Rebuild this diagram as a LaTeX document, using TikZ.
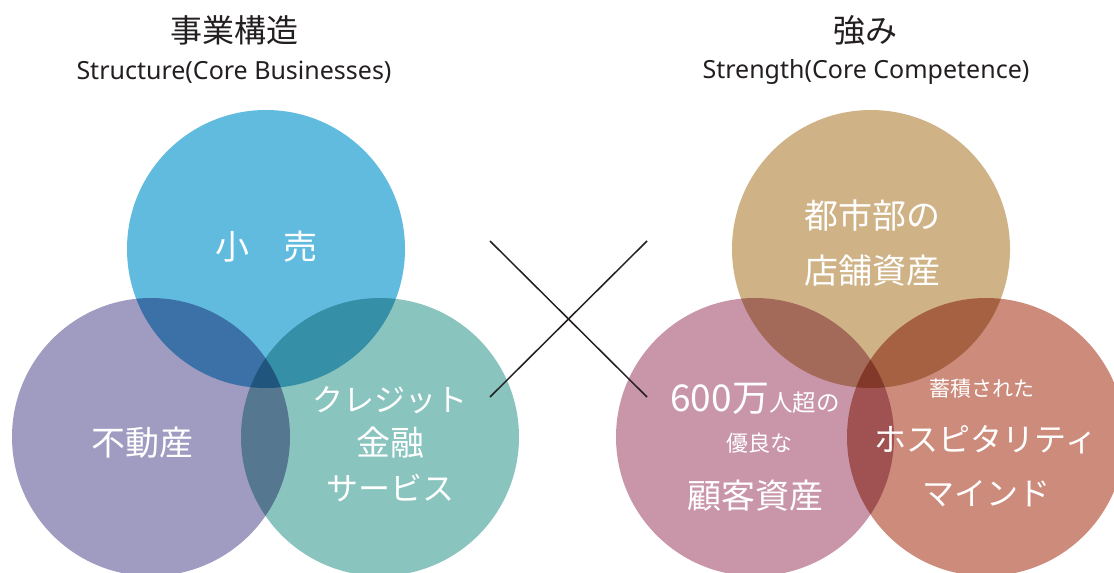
\documentclass[tikz,border=0pt]{standalone}
\usepackage{fontspec}
\setmainfont{Noto Sans CJK JP}
\newfontfamily\latinsub{Noto Sans}
\definecolor{cblue}{HTML}{61BBDF}
\definecolor{cpurple}{HTML}{9F9BC1}
\definecolor{cteal}{HTML}{89C4BF}
\definecolor{ctan}{HTML}{CFB387}
\definecolor{cpink}{HTML}{C996A9}
\definecolor{cbrown}{HTML}{CC8B7B}
\definecolor{ink}{HTML}{231F20}
\tikzset{
  venn/.style={circle, minimum size=278pt, inner sep=0pt, draw=none},
  intxt/.style={text=white, inner sep=0pt, font=\fontsize{34}{40}\selectfont},
  title/.style={text=ink, inner sep=0pt, font=\fontsize{32}{38}\selectfont},
  subtitle/.style={text=ink, inner sep=0pt, font=\latinsub\fontsize{25}{30}\selectfont},
  cross/.style={draw=ink, line width=1.5pt}
}
\begin{document}
\begin{tikzpicture}[x=1pt,y=-1pt]
\useasboundingbox (0,0) rectangle (1114,573);
\clip (0,0) rectangle (1114,573);
\fill[white] (0,0) rectangle (1114,573);
\begin{scope}[blend group=multiply]
  \node[venn, fill=cblue]   (retail) at (266,249) {};
  \node[venn, fill=cpurple] (estate) at (151,437) {};
  \node[venn, fill=cteal]   (credit) at (380,437) {};
  \node[venn, fill=ctan]    (store)  at (871,249) {};
  \node[venn, fill=cpink]   (cust)   at (755,437) {};
  \node[venn, fill=cbrown]  (hosp)   at (986,437) {};
\end{scope}
% titles
\node[title] (t1) at (234,30) {事業構造};
\node[subtitle] (s1) at (234,72) {Structure(Core Businesses)};
\node[title] (t2) at (865,30) {強み};
\node[subtitle] (s2) at (866,72) {Strength(Core Competence)};
% cross
\coordinate (xa) at (490,241);
\coordinate (xb) at (647,397);
\coordinate (xc) at (647,241);
\coordinate (xd) at (490,397);
\draw[cross] (xa) -- (xb);
\draw[cross] (xc) -- (xd);
% left texts
\node[intxt] (l1) at (266,247) {小　売};
\node[intxt] (l2) at (142,443) {不動産};
\node[intxt, font=\fontsize{31}{38}\selectfont] (l3a) at (390,400) {クレジット};
\node[intxt] (l3b) at (390,443) {金融};
\node[intxt, font=\fontsize{32}{38}\selectfont] (l3c) at (390,488) {サービス};
% right texts
\node[intxt] (r1a) at (872,216) {都市部の};
\node[intxt] (r1b) at (872,271) {店舗資産};
\node[intxt, anchor=base] (r2a) at (755,411) {{\fontsize{37}{40}\selectfont 600万}{\fontsize{23.5}{28}\selectfont 人超の}};
\node[intxt, font=\fontsize{22}{26}\selectfont] (r2b) at (759,443) {優良な};
\node[intxt, font=\fontsize{34}{40}\selectfont] (r2c) at (755,496) {顧客資産};
\node[intxt, font=\fontsize{21}{26}\selectfont] (r3a) at (982,389) {蓄積された};
\node[intxt, font=\fontsize{32}{38}\selectfont] (r3b) at (986,440) {ホスピタリティ};
\node[intxt, font=\fontsize{32}{38}\selectfont] (r3c) at (986,494) {マインド};
\end{tikzpicture}
\end{document}
